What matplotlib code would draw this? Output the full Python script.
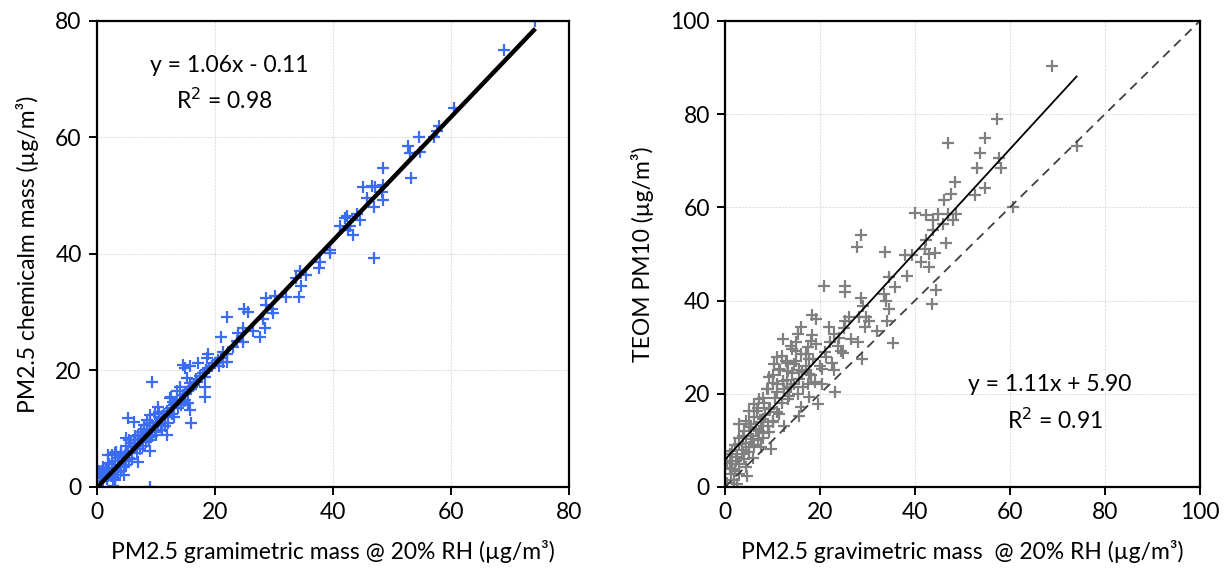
import matplotlib
matplotlib.use("Agg")
import matplotlib.pyplot as plt
import numpy as np

plt.rcParams["font.family"] = ["Lato", "DejaVu Sans"]

# left panel: PM2.5 gravimetric vs chemical mass
grav_a = [74.3, 69.0, 60.5, 58.0, 57.6, 57.2, 54.6, 52.7, 53.0, 54.7, 53.3, 48.4,
          45.1, 46.6, 47.1, 48.5, 48.3, 48.5, 45.7, 46.9, 46.9, 42.3, 42.0, 44.0,
          44.6, 41.2, 42.9, 43.4, 42.6, 39.5, 39.5, 37.8, 37.7, 34.4, 35.5, 33.8,
          34.5, 34.3, 32.1, 30.2, 28.6, 28.6, 29.6, 29.8, 25.0, 25.6, 22.0, 28.1,
          28.5, 27.6, 26.5, 23.9, 24.7, 23.7, 24.8, 21.1, 23.1, 22.1, 21.4, 21.4,
          20.6, 22.0, 18.9, 18.6, 17.2, 15.8, 14.5, 14.9, 18.3, 18.3, 18.3, 9.3,
          15.2, 15.8, 14.1, 13.5, 16.0, 15.8, 15.5, 12.4, 12.9, 10.4, 9.0, 9.8,
          5.3, 6.2, 7.9, 8.4, 9.0, 11.5, 11.8, 9.0, 7.0, 5.0, 6.2, 1.9, 3.1, 4.5,
          0.5, 1.4, 3.1, 2.8, 9.0, 4.5, 5.0,
          0.5, 0.8, 1.0, 1.2, 1.5, 1.7, 2.0, 2.0, 2.3, 2.5, 2.7, 3.0, 3.0, 3.2,
          3.5, 3.5, 3.8, 4.0, 4.0, 4.2, 4.5, 4.8, 5.0, 5.0, 5.3, 5.5, 5.8, 6.0,
          6.0, 6.3, 6.5, 6.8, 7.0, 7.0, 7.3, 7.5, 7.8, 8.0, 8.0, 8.3, 8.5, 8.8,
          9.0, 9.0, 9.3, 9.5, 9.8, 10.0, 10.0, 10.3, 10.5, 10.8, 11.0, 11.0, 11.3,
          11.5, 11.8, 12.0, 12.0, 12.5, 12.8, 13.0, 13.0, 13.5, 13.8, 14.0, 14.2,
          14.5, 14.8, 15.0, 15.0, 15.5, 15.8, 16.0, 16.5, 16.8, 17.0, 17.5, 18.0,
          18.5, 19.0, 19.5, 20.0, 20.5, 21.0,
          0.3, 1.0, 1.8, 2.5, 3.3, 4.0, 5.5, 6.5, 7.5, 8.5, 10.5, 12.5]
chem_a = [79.9, 74.9, 65.0, 62.0, 61.0, 60.0, 60.1, 58.5, 57.3, 57.4, 53.1, 54.8,
          51.4, 51.6, 51.4, 51.8, 50.7, 49.3, 49.6, 48.0, 39.3, 46.5, 46.1, 46.9,
          45.8, 44.7, 44.7, 43.3, 44.1, 40.7, 40.1, 38.6, 37.5, 37.1, 36.3, 35.8,
          34.5, 32.6, 32.6, 32.8, 32.4, 31.2, 30.5, 29.8, 30.6, 30.1, 29.2, 28.9,
          27.2, 25.8, 26.8, 26.5, 27.2, 25.0, 24.8, 25.8, 24.1, 22.9, 23.2, 21.5,
          20.7, 21.5, 22.8, 22.1, 21.2, 20.8, 21.0, 20.4, 18.9, 17.2, 15.5, 18.1,
          18.7, 17.2, 17.2, 16.4, 10.9, 13.2, 14.4, 15.2, 14.6, 13.8, 12.4, 12.6,
          11.8, 11.2, 10.6, 9.8, 8.6, 10.4, 9.0, 6.1, 4.3, 8.4, 7.5, 5.5, 5.8, 5.2,
          2.6, 2.3, 1.2, 0.1, 0.0, 2.1, 3.8,
          1.5, 2.8, 1.0, 2.0, 3.0, 1.3, 2.5, 4.0, 1.8, 3.2, 2.2, 4.5, 1.5, 3.0,
          2.5, 5.0, 3.8, 2.8, 6.0, 4.5, 3.5, 5.5, 4.5, 7.0, 6.0, 5.0, 7.5, 6.2,
          4.8, 8.0, 6.8, 5.8, 7.5, 9.0, 6.5, 8.2, 7.0, 8.5, 10.0, 7.8, 9.2, 8.0,
          9.8, 11.0, 8.8, 10.5, 9.5, 11.2, 9.0, 10.8, 12.0, 10.5, 11.8, 9.8, 12.5,
          11.0, 13.0, 12.2, 11.0, 13.5, 12.5, 14.0, 12.0, 14.5, 13.5, 15.0, 14.0,
          15.8, 14.8, 16.0, 15.0, 16.5, 17.8, 16.8, 17.5, 18.5, 18.0, 19.0, 19.5,
          20.0, 20.5, 20.8, 21.2, 21.8, 22.2,
          2.8, 3.5, 4.2, 5.5, 6.0, 5.8, 8.0, 8.8, 9.5, 11.5, 12.8, 15.5]
fit_a = (1.06, -0.11)
fit_a_x = [0.0, 74.3]

# right panel: PM2.5 gravimetric vs TEOM PM10
grav_b = [68.8, 57.2, 46.9, 54.8, 53.6, 57.7, 58.2, 53.1, 74.2, 48.5, 54.8, 52.7,
          47.6, 46.2, 39.9, 42.3, 44.8, 46.9, 48.7, 43.7, 45.8, 47.9, 60.6, 43.7,
          42.3, 46.6, 42.0, 43.0, 44.1, 41.3, 43.0, 44.4, 43.6, 39.4, 37.8, 33.7,
          38.3, 34.5, 35.7, 33.5, 33.9, 34.6, 34.2, 35.3, 32.0, 28.7, 27.8, 20.9,
          25.3, 25.3, 28.7, 29.0, 29.7, 30.4, 28.3, 25.3, 26.2, 29.5, 21.9, 23.0,
          26.5, 27.9, 23.7, 24.4, 24.8, 28.8, 21.2, 22.6, 20.5, 20.5, 23.2, 19.5,
          18.4, 19.1, 16.0, 15.3, 18.4, 18.1, 19.1, 12.1, 13.9, 14.9, 17.0, 17.7,
          11.0, 12.8, 14.6, 10.3, 11.4, 13.2, 16.3, 17.7, 15.6, 17.4, 9.3, 10.0,
          12.1, 13.9, 8.9, 11.0, 15.3, 17.7, 16.0, 15.6, 13.2, 7.2, 8.2, 6.1, 5.1,
          6.8, 9.3, 11.4, 12.4, 10.0, 7.9, 4.4, 2.9, 5.4, 7.2, 9.3, 7.9, 5.8, 3.7,
          9.6, 7.5, 5.1, 2.9, 1.5, 3.7, 5.8, 2.3, 0.5, 1.5, 4.4, 2.9, 4.7, 0.5, 2.6,
          1.9, 1.2,
          1.0, 1.0, 1.5, 2.0, 2.0, 2.5, 3.0, 3.0, 3.5, 4.0, 4.0, 4.5, 5.0, 5.0,
          5.5, 6.0, 6.0, 6.5, 7.0, 7.0, 7.5, 8.0, 8.0, 8.5, 9.0, 9.0, 9.5, 10.0,
          10.0, 10.5, 11.0, 11.0, 11.5, 12.0, 12.0, 12.5, 13.0, 13.0, 13.5, 14.0,
          14.0, 14.5, 15.0, 15.0, 15.5, 16.0, 16.5, 17.0, 17.5, 18.0, 18.5, 19.0,
          20.0, 21.0, 22.0, 23.0, 24.0, 25.0]
teom_b = [90.3, 78.9, 73.8, 74.8, 71.7, 70.6, 68.5, 68.5, 73.1, 65.4, 64.2, 62.6,
          62.9, 61.6, 58.8, 58.3, 58.6, 58.6, 58.6, 57.2, 56.5, 57.2, 60.1, 55.1,
          52.9, 52.3, 51.1, 50.0, 50.2, 48.2, 47.2, 42.2, 39.3, 49.7, 49.7, 50.3,
          45.2, 45.0, 42.9, 41.4, 40.0, 38.2, 35.7, 30.9, 33.5, 54.0, 51.5, 43.1,
          43.1, 41.8, 40.6, 38.9, 36.4, 35.7, 36.4, 35.7, 36.4, 34.3, 34.3, 32.9,
          31.8, 31.0, 30.3, 29.2, 28.7, 27.5, 27.8, 26.7, 25.3, 22.1, 20.3, 17.8,
          36.8, 36.1, 34.3, 32.8, 32.5, 31.4, 30.7, 31.8, 30.3, 29.2, 28.5, 27.5,
          27.8, 27.1, 26.4, 26.4, 25.3, 24.9, 24.6, 24.2, 23.2, 22.1, 23.5, 22.4,
          22.8, 21.4, 21.0, 20.3, 19.9, 19.2, 17.1, 15.3, 18.9, 18.9, 18.1, 17.8,
          16.3, 16.3, 16.7, 15.6, 13.1, 14.2, 14.6, 14.2, 13.5, 12.8, 12.0, 11.7,
          10.6, 10.3, 11.0, 8.1, 8.5, 8.5, 9.2, 7.7, 7.0, 6.3, 5.6, 5.2, 3.8, 4.2,
          2.7, 2.4, 0.9, 0.6, 1.6, 2.7,
          4.0, 7.0, 5.5, 3.5, 9.0, 6.5, 5.0, 10.5, 8.0, 6.0, 12.0, 9.5, 7.5, 13.5,
          11.0, 9.0, 15.0, 12.5, 10.0, 17.0, 14.0, 11.5, 19.0, 15.5, 13.0, 21.0,
          17.0, 14.0, 24.0, 19.0, 16.0, 22.0, 25.0, 18.0, 28.0, 21.0, 23.0, 26.5,
          19.5, 24.5, 29.5, 22.0, 27.0, 31.0, 25.0, 28.5, 21.5, 26.0, 30.0, 24.0,
          27.5, 22.5, 26.0, 29.0, 31.0, 25.0, 32.0, 34.0]
fit_b = (1.11, 5.90)
fit_b_x = [0.0, 74.0]
one_to_one = [0.0, 100.0]

BLUE = "#3b6cf5"
GREY = "#808080"
FS = 16.5


def style(ax, lim, step):
    ax.set_xlim(0, lim)
    ax.set_ylim(0, lim)
    ax.set_xticks(np.arange(0, lim + 1, step))
    ax.set_yticks(np.arange(0, lim + 1, step))
    ax.grid(True, color="#e0e0e0", lw=0.8, ls=(0, (2, 1)))
    ax.set_axisbelow(True)
    for s in ax.spines.values():
        s.set_linewidth(1.6)
    ax.tick_params(direction="out", length=6, width=1.4, labelsize=FS, pad=5)


fig = plt.figure(figsize=(12.26, 5.77), dpi=100)
ax1 = fig.add_axes([0.0791, 0.156, 0.385, 0.808])
ax2 = fig.add_axes([0.5914, 0.156, 0.3874, 0.808])

# (a)
style(ax1, 80, 20)
ax1.plot(grav_a, chem_a, ls="none", marker="+", ms=9, mew=1.6, color=BLUE)
fx = np.array(fit_a_x)
ax1.plot(fx, fit_a[0] * fx + fit_a[1], color="black", lw=3.2, solid_capstyle="butt")
ax1.text(22.5, 72.4, "y = 1.06x - 0.11", ha="center", va="center", fontsize=FS)
ax1.text(21.5, 66.4, "R$^2$ = 0.98", ha="center", va="center", fontsize=FS)
ax1.set_xlabel("PM2.5 gramimetric mass @ 20% RH (µg/m³)", fontsize=FS, labelpad=12)
ax1.set_ylabel("PM2.5 chemicalm mass (µg/m³)", fontsize=FS, labelpad=12)

# (b)
style(ax2, 100, 20)
ax2.plot(grav_b, teom_b, ls="none", marker="+", ms=9, mew=1.6, color=GREY)
fx = np.array(fit_b_x)
ax2.plot(fx, fit_b[0] * fx + fit_b[1], color="black", lw=1.3)
ax2.plot(one_to_one, one_to_one, color="#404040", lw=1.3, ls=(0, (5, 3.5)))
ax2.text(68.4, 21.9, "y = 1.11x + 5.90", ha="center", va="center", fontsize=FS)
ax2.text(69.5, 14.2, "R$^2$ = 0.91", ha="center", va="center", fontsize=FS)
ax2.set_xlabel("PM2.5 gravimetric mass  @ 20% RH (µg/m³)", fontsize=FS, labelpad=12)
ax2.set_ylabel("TEOM PM10 (µg/m³)", fontsize=FS, labelpad=12)

fig.savefig("out.png", dpi=100)
